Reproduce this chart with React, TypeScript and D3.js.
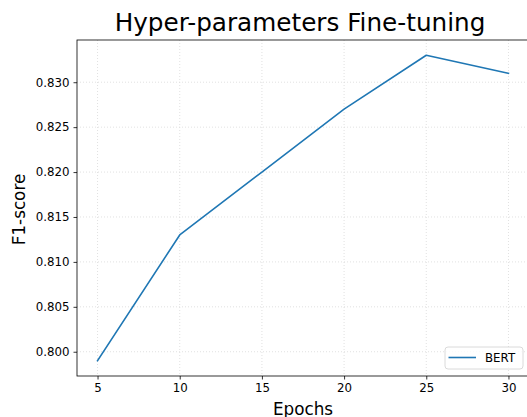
import React, { useEffect, useRef } from 'react';
import * as d3 from 'd3';

const epochs = [5, 10, 15, 20, 25, 30];
const bertF1 = [0.799, 0.813, 0.82, 0.827, 0.833, 0.831];
const xTicks = [5, 10, 15, 20, 25, 30];
const yTicks = [0.8, 0.805, 0.81, 0.815, 0.82, 0.825, 0.83];

const width = 527;
const height = 417;

export default function App() {
  const ref = useRef<SVGSVGElement>(null);

  useEffect(() => {
    const svg = d3.select(ref.current);
    svg.selectAll('*').remove();

    const margin = { top: 40, right: -2, bottom: 41, left: 77 };
    const font = 'DejaVu Sans, sans-serif';

    const x = d3.scaleLinear()
      .domain([3.75, 31.25])
      .range([margin.left, width - margin.right]);
    const y = d3.scaleLinear()
      .domain([0.7973, 0.8347])
      .range([height - margin.bottom, margin.top]);

    const data = epochs.map((e, i) => ({ e, v: bertF1[i] }));

    // grid
    svg.append('g')
      .selectAll('line')
      .data(xTicks)
      .join('line')
      .attr('x1', d => x(d)).attr('x2', d => x(d))
      .attr('y1', margin.top).attr('y2', height - margin.bottom)
      .attr('stroke', '#d9d9d9').attr('stroke-width', 0.8)
      .attr('stroke-dasharray', '1,2');
    svg.append('g')
      .selectAll('line')
      .data(yTicks)
      .join('line')
      .attr('y1', d => y(d)).attr('y2', d => y(d))
      .attr('x1', margin.left).attr('x2', width - margin.right)
      .attr('stroke', '#d9d9d9').attr('stroke-width', 0.8)
      .attr('stroke-dasharray', '1,2');

    const xAxis = svg.append('g')
      .attr('transform', `translate(0,${height - margin.bottom})`)
      .call(d3.axisBottom(x).tickValues(xTicks).tickSize(3.5).tickPadding(4).tickFormat(d3.format('d')));
    const yAxis = svg.append('g')
      .attr('transform', `translate(${margin.left},0)`)
      .call(d3.axisLeft(y).tickValues(yTicks).tickSize(3.5).tickPadding(4).tickFormat(d3.format('.3f')));

    [xAxis, yAxis].forEach(g => {
      g.select('.domain').remove();
      g.selectAll('.tick line').attr('stroke', '#000').attr('stroke-width', 0.8);
      g.selectAll('.tick text').attr('fill', '#000').attr('font-family', font).attr('font-size', 11.8);
    });

    // spines
    svg.append('rect')
      .attr('x', margin.left).attr('y', margin.top)
      .attr('width', width - margin.right - margin.left)
      .attr('height', height - margin.bottom - margin.top)
      .attr('fill', 'none').attr('stroke', '#000').attr('stroke-width', 0.8);

    const line = d3.line<{ e: number; v: number }>()
      .x(d => x(d.e))
      .y(d => y(d.v));

    svg.append('path')
      .datum(data)
      .attr('fill', 'none')
      .attr('stroke', '#1f77b4')
      .attr('stroke-width', 1.6)
      .attr('stroke-linejoin', 'round')
      .attr('stroke-linecap', 'square')
      .attr('d', line);

    // title
    svg.append('text')
      .attr('x', 300)
      .attr('y', 30.5)
      .attr('text-anchor', 'middle')
      .attr('font-family', font)
      .attr('font-size', 24.7)
      .text('Hyper-parameters Fine-tuning');

    svg.append('text')
      .attr('x', 303)
      .attr('y', 414.5)
      .attr('text-anchor', 'middle')
      .attr('font-family', font)
      .attr('font-size', 16.8)
      .text('Epochs');

    svg.append('text')
      .attr('transform', `translate(25,209.5) rotate(-90)`)
      .attr('text-anchor', 'middle')
      .attr('font-family', font)
      .attr('font-size', 16.8)
      .text('F1-score');

    // legend
    const lg = svg.append('g').attr('transform', 'translate(445,347)');
    lg.append('rect')
      .attr('width', 78).attr('height', 22).attr('rx', 3)
      .attr('fill', '#fff').attr('fill-opacity', 0.8)
      .attr('stroke', '#d0d0d0').attr('stroke-width', 0.8);
    lg.append('line')
      .attr('x1', 3.5).attr('x2', 31).attr('y1', 10.5).attr('y2', 10.5)
      .attr('stroke', '#1f77b4').attr('stroke-width', 1.6);
    lg.append('text')
      .attr('x', 40).attr('y', 14.5)
      .attr('font-family', font).attr('font-size', 11.8)
      .text('BERT');
  }, []);

  return <svg ref={ref} width={width} height={height} style={{ position: 'absolute', left: 0, top: 0 }} />;
}
